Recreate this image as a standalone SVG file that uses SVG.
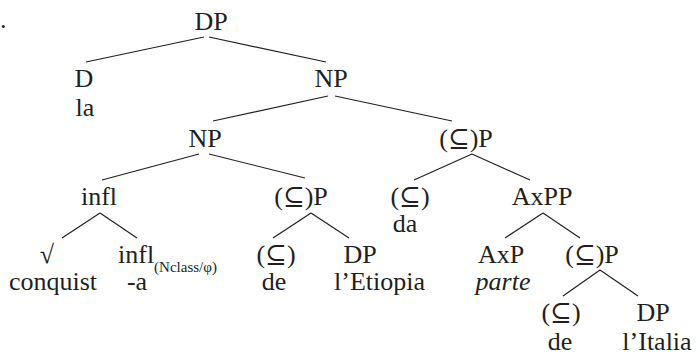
<svg xmlns="http://www.w3.org/2000/svg" width="696" height="355" viewBox="0 0 696 355">
  <style>
    text { font-family: "Liberation Serif", "DejaVu Serif", serif; font-size: 26px; fill: #231f20; }
    .c { text-anchor: middle; }
    .sub { font-size: 15px; }
    .it { font-style: italic; }
    #edges line { stroke: #231f20; stroke-width: 1.2; stroke-linecap: butt; }
  </style>
  <rect width="696" height="355" fill="#ffffff"/>

  <!-- example number punctuation -->
  <text x="0" y="28">.</text>

  <!-- tree branches -->
  <g id="edges">
    <line x1="204" y1="37" x2="86" y2="62"/>
    <line x1="209" y1="37" x2="326" y2="62"/>
    <line x1="328" y1="96" x2="213" y2="121"/>
    <line x1="335" y1="96" x2="452" y2="121"/>
    <line x1="199" y1="154" x2="102" y2="180"/>
    <line x1="209" y1="154" x2="305" y2="178"/>
    <line x1="472" y1="154" x2="414" y2="180"/>
    <line x1="472" y1="154" x2="530" y2="180"/>
    <line x1="100" y1="213" x2="62" y2="238"/>
    <line x1="100" y1="213" x2="137" y2="238"/>
    <line x1="311" y1="213" x2="273" y2="238"/>
    <line x1="311" y1="213" x2="349" y2="238"/>
    <line x1="543" y1="213" x2="505" y2="238"/>
    <line x1="543" y1="213" x2="580" y2="238"/>
    <line x1="600" y1="270" x2="563" y2="296"/>
    <line x1="600" y1="270" x2="638" y2="296"/>
  </g>

  <!-- nodes -->
  <g id="dp-root"><text class="c" x="211" y="30">DP</text></g>
  <g id="d"><text class="c" x="84" y="87">D</text><text class="c" x="85" y="116">la</text></g>
  <g id="np-upper"><text class="c" x="331" y="87">NP</text></g>
  <g id="np-lower"><text class="c" x="205" y="147">NP</text></g>
  <g id="subset-p-da"><text class="c" x="466" y="147">(⊆)P</text></g>
  <g id="infl"><text class="c" x="99" y="205">infl</text></g>
  <g id="subset-p-de"><text class="c" x="301" y="205">(⊆)P</text></g>
  <g id="subset-da"><text class="c" x="410" y="205">(⊆)</text><text class="c" x="405" y="232">da</text></g>
  <g id="axpp"><text class="c" x="542" y="205">AxPP</text></g>
  <g id="root"><text class="c" x="47" y="263">√</text><text class="c" x="53" y="290">conquist</text></g>
  <g id="infl-nclass"><text x="118" y="263">infl<tspan class="sub" dy="9">(Nclass/φ)</tspan></text><text class="c" x="137" y="290">-a</text></g>
  <g id="subset-de-1"><text class="c" x="276" y="263">(⊆)</text><text class="c" x="274" y="290">de</text></g>
  <g id="dp-etiopia"><text class="c" x="360" y="263">DP</text><text x="334" y="290">l’Etiopia</text></g>
  <g id="axp"><text class="c" x="501" y="263">AxP</text><text class="c it" x="503" y="290">parte</text></g>
  <g id="subset-p-italia"><text class="c" x="592" y="263">(⊆)P</text></g>
  <g id="subset-de-2"><text class="c" x="561" y="321">(⊆)</text><text class="c" x="560" y="350">de</text></g>
  <g id="dp-italia"><text class="c" x="653" y="321">DP</text><text class="c" x="657" y="350">l’Italia</text></g>
</svg>
